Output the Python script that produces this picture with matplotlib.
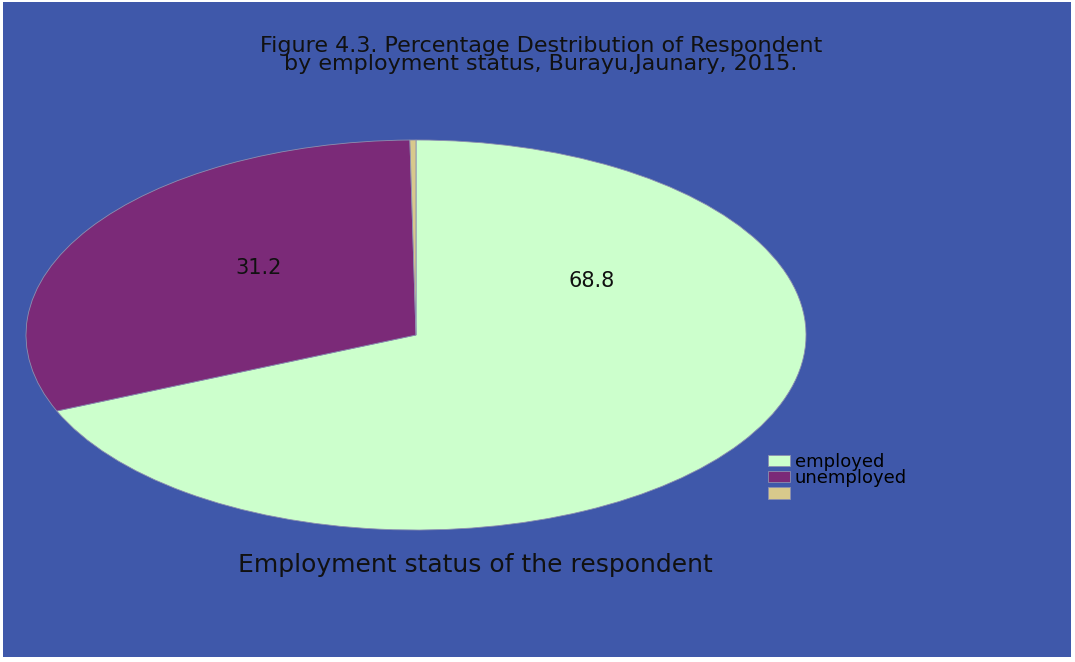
import matplotlib
matplotlib.use("Agg")
import matplotlib.pyplot as plt
from matplotlib.patches import Rectangle

# --- DATA ---
categories = ["employed", "unemployed", ""]
values = [68.8, 31.2, 0.25]
value_labels = ["68.8", "31.2", ""]
colors = ["#ccffcc", "#7b2a78", "#d8c98c"]

title_text = "Figure 4.3. Percentage Destribution of Respondent\nby employment status, Burayu,Jaunary, 2015."
bottom_text = "Employment status of the respondent"

# --- FIGURE ---
fig = plt.figure(figsize=(10.75, 6.62), dpi=100)
fig.patch.set_facecolor("white")
fig.patches.append(Rectangle((3 / 1075, 5 / 662), 1068 / 1075, 655 / 662,
                             transform=fig.transFigure, facecolor="#3f58aa",
                             edgecolor="none", zorder=-5))

# pie drawn in an axes that is twice as wide as tall -> elliptical pie
ax = fig.add_axes([26 / 1075, 132 / 662, 780 / 1075, 390 / 662])
ax.set_zorder(2)
ax.patch.set_alpha(0)
wedges, _ = ax.pie(values, colors=colors, startangle=90, counterclock=False,
                   wedgeprops=dict(edgecolor="#8c8fb0", linewidth=0.6))
ax.set_aspect("auto")
ax.set_xlim(-1, 1)
ax.set_ylim(-1, 1)

# --- SLICE LABELS ---
ax.text(0.451, 0.277, value_labels[0], ha="center", va="center", fontsize=15, color="#111111")
ax.text(-0.403, 0.344, value_labels[1], ha="center", va="center", fontsize=15, color="#111111")

# --- TITLE / CAPTION ---
fig.text(541 / 1075, 1 - 55 / 662, title_text, ha="center", va="center",
         fontsize=16, linespacing=0.85, color="#111111")
fig.text(475 / 1075, 1 - 565 / 662, bottom_text, ha="center", va="center",
         fontsize=18, color="#111111")

# --- LEGEND ---
fig.legend(wedges, categories, loc="upper left", bbox_to_anchor=(766 / 1075, 1 - 451 / 662),
           frameon=False, fontsize=13, handlelength=1.25, handleheight=0.6,
           handletextpad=0.25, labelspacing=-0.1, borderaxespad=0, borderpad=0.1)

plt.savefig("out.png", dpi=100)
